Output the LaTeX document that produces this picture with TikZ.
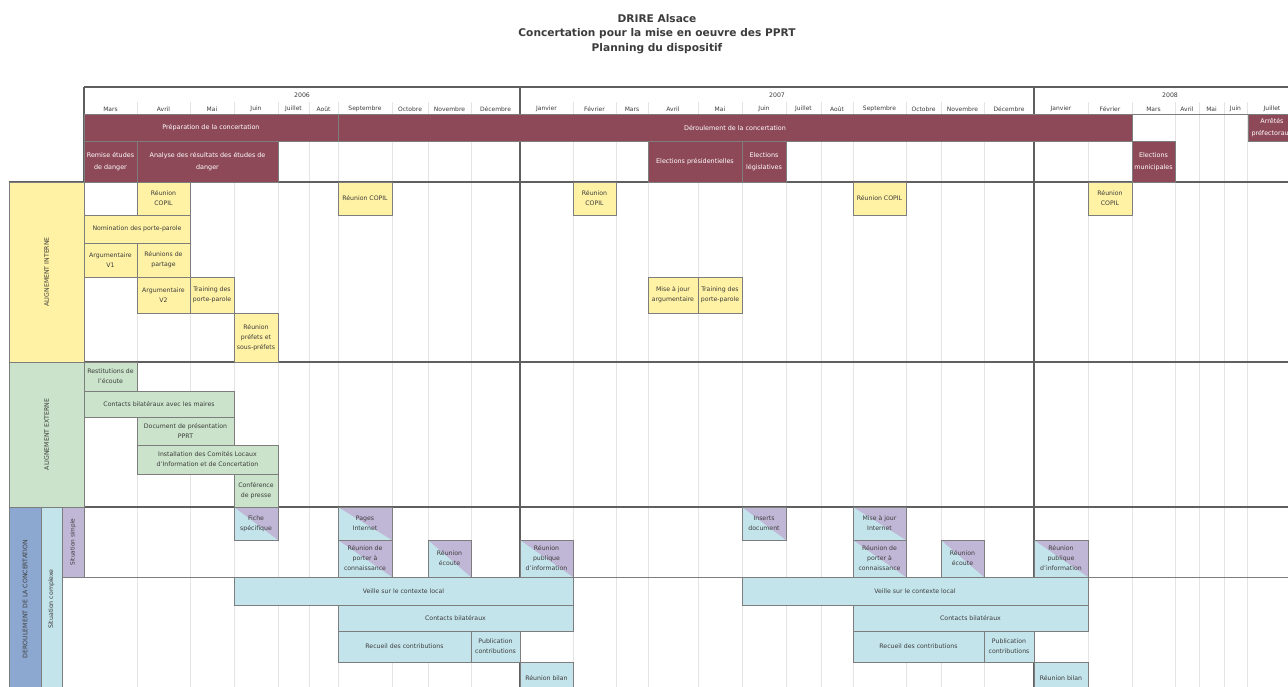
\documentclass[tikz,border=0pt]{standalone}
\usepackage{fontspec}
\setmainfont{DejaVu Sans}
\definecolor{maroon}{RGB}{142,73,89}
\definecolor{yel}{RGB}{255,242,164}
\definecolor{grn}{RGB}{202,227,202}
\definecolor{lblue}{RGB}{196,228,236}
\definecolor{lpurple}{RGB}{192,182,214}
\definecolor{dblue}{RGB}{141,168,208}
\definecolor{bordergray}{RGB}{125,125,125}
\definecolor{gridgray}{RGB}{228,228,228}
\definecolor{heavygray}{RGB}{95,95,95}
\definecolor{textgray}{RGB}{60,60,60}
% one task box spanning the columns x1..x2 and the rows y1..y2
\newcommand\task[7]{%
  \node[#2, minimum width={(#5-#3)*1pt}, minimum height={(#6-#4)*1pt}]
    (#1) at ({(#3+#5)/2},{(#4+#6)/2}) {#7};}
\begin{document}
\begin{tikzpicture}[x=1pt,y=-1pt,
  box/.style={draw=bordergray, line width=0.7pt, inner sep=0pt, outer sep=0pt,
    align=center, text=textgray, font=\fontsize{6.2}{10}\selectfont},
  yb/.style={box, fill=yel},
  gb/.style={box, fill=grn},
  bb/.style={box, fill=lblue},
  sb/.style={box, fill=lblue, path picture={
    \fill[lpurple] (path picture bounding box.north west) --
      (path picture bounding box.north east) --
      (path picture bounding box.south east) -- cycle;}},
  mb/.style={box, fill=maroon, text=white, font=\fontsize{6.4}{12.5}\selectfont},
  panel/.style={box, rotate=90, font=\fontsize{6.2}{8}\selectfont},
  gridline/.style={draw=gridgray, line width=0.6pt},
  heavyline/.style={draw=heavygray, line width=1.2pt},
  midline/.style={draw=bordergray, line width=0.8pt},
  monthlbl/.style={text=textgray, font=\fontsize{6}{7}\selectfont, inner sep=0pt},
  yearlbl/.style={text=textgray, font=\fontsize{6.2}{7}\selectfont, inner sep=0pt}
]
\useasboundingbox[fill=white] (0,0) rectangle (1288,686);
\clip (0,0) rectangle (1288,686);

% title
\node[align=center, text=textgray, font=\bfseries\fontsize{10.6}{14.5}\selectfont]
  (title) at (657,34) {DRIRE Alsace\\Concertation pour la mise en oeuvre des PPRT\\Planning du dispositif};

% month columns: light separators and month names
\foreach \a/\b/\m in {84/137/Mars,137/190/Avril,190/234/Mai,234/278/Juin,278/309/Juillet,
  309/338/Août,338/392/Septembre,392/428/Octobre,428/471/Novembre,471/520/Décembre,
  520/573/Janvier,573/616/Février,616/648/Mars,648/698/Avril,698/742/Mai,742/786/Juin,
  786/821/Juillet,821/853/Août,853/906/Septembre,906/941/Octobre,941/984/Novembre,
  984/1034/Décembre,1034/1088/Janvier,1088/1132/Février,1132/1175/Mars,1175/1199/Avril,
  1199/1224/Mai,1224/1247/Juin,1247/1297/Juillet}{
  \draw[gridline] (\b,102) -- (\b,700);
  \node[monthlbl] (m-\a) at ({(\a+\b)/2},109) {\m};
}

% years
\node[yearlbl] (y2006) at (302,95) {2006};
\node[yearlbl] (y2007) at (777,95) {2007};
\node[yearlbl] (y2008) at (1170,95) {2008};

% frame of the calendar
\draw[heavyline] (84,87) -- (1300,87);
\draw[heavyline] (84,87) -- (84,182);
\draw[midline] (84,114) -- (1300,114);
\draw[heavyline] (520,87) -- (520,700);
\draw[heavyline] (1034,87) -- (1034,700);
\draw[heavyline] (9,182) -- (1300,182);
\draw[heavyline] (84,362) -- (1300,362);
\draw[heavyline] (84,507) -- (1300,507);
\draw[midline] (62,577) -- (1300,577);

% phases and external events
\task{prep}{mb}{84}{114}{338}{141}{Préparation de la concertation}
\task{derl}{mb}{338}{114}{1132}{141}{Déroulement de la concertation}
\task{arr}{mb}{1248}{114}{1296}{141}{Arrêtés\\préfectoraux}
\task{remise}{mb}{84}{141}{137}{182}{Remise études\\de danger}
\task{analyse}{mb}{137}{141}{278}{182}{Analyse des résultats des études de\\danger}
\task{presid}{mb}{648}{141}{742}{182}{Elections présidentielles}
\task{legis}{mb}{742}{141}{786}{182}{Elections\\législatives}
\task{munic}{mb}{1132}{141}{1175}{182}{Elections\\municipales}

% side panels
\node[panel, fill=yel, minimum width=180pt, minimum height=75pt] (ai) at (46.5,272) {ALIGNEMENT INTERNE};
\node[panel, fill=grn, minimum width=145pt, minimum height=75pt] (ae) at (46.5,434.5) {ALIGNEMENT EXTERNE};
\node[panel, fill=dblue, minimum width=184pt, minimum height=32pt] (dc) at (25,599) {DEROULEMENT DE LA CONCERTATION};
\node[panel, fill=lblue, minimum width=184pt, minimum height=21pt] (sc) at (51.5,599) {Situation complexe};
\node[panel, fill=lpurple, minimum width=70pt, minimum height=22pt, font=\fontsize{5.8}{7}\selectfont] (ss) at (73,542) {Situation simple};

% internal alignment
\task{copil1}{yb}{137}{182}{190}{215}{Réunion\\COPIL}
\task{copil2}{yb}{338}{182}{392}{215}{Réunion COPIL}
\task{copil3}{yb}{573}{182}{616}{215}{Réunion\\COPIL}
\task{copil4}{yb}{853}{182}{906}{215}{Réunion COPIL}
\task{copil5}{yb}{1088}{182}{1132}{215}{Réunion\\COPIL}
\task{nomin}{yb}{84}{215}{190}{243}{Nomination des porte-parole}
\task{argv1}{yb}{84}{243}{137}{277}{Argumentaire\\V1}
\task{partage}{yb}{137}{243}{190}{277}{Réunions de\\partage}
\task{argv2}{yb}{137}{277}{190}{313}{Argumentaire\\V2}
\task{train1}{yb}{190}{277}{234}{313}{Training des\\porte-parole}
\task{prefets}{yb}{234}{313}{278}{362}{Réunion\\préfets et\\sous-préfets}
\task{majarg}{yb}{648}{277}{698}{313}{Mise à jour\\argumentaire}
\task{train2}{yb}{698}{277}{742}{313}{Training des\\porte-parole}

% external alignment
\task{restit}{gb}{84}{362}{137}{391}{Restitutions de\\l'écoute}
\task{maires}{gb}{84}{391}{234}{417}{Contacts bilatéraux avec les maires}
\task{docpprt}{gb}{137}{417}{234}{445}{Document de présentation\\PPRT}
\task{clic}{gb}{137}{445}{278}{474}{Installation des Comités Locaux\\d'Information et de Concertation}
\task{presse}{gb}{234}{474}{278}{507}{Conférence\\de presse}

% running the consultation, simple situation
\task{fiche}{sb}{234}{507}{278}{540}{Fiche\\spécifique}
\task{pages}{sb}{338}{507}{392}{540}{Pages\\Internet}
\task{porter1}{sb}{338}{540}{392}{577}{Réunion de\\porter à\\connaissance}
\task{ecoute1}{sb}{428}{540}{471}{577}{Réunion\\écoute}
\task{publ1}{sb}{520}{540}{573}{577}{Réunion\\publique\\d'information}
\task{inserts}{sb}{742}{507}{786}{540}{Inserts\\document}
\task{majint}{sb}{853}{507}{906}{540}{Mise à jour\\Internet}
\task{porter2}{sb}{853}{540}{906}{577}{Réunion de\\porter à\\connaissance}
\task{ecoute2}{sb}{941}{540}{984}{577}{Réunion\\écoute}
\task{publ2}{sb}{1034}{540}{1088}{577}{Réunion\\publique\\d'information}

% running the consultation, complex situation
\task{veille1}{bb}{234}{577}{573}{605}{Veille sur le contexte local}
\task{bilat1}{bb}{338}{605}{573}{631}{Contacts bilatéraux}
\task{recueil1}{bb}{338}{631}{471}{662}{Recueil des contributions}
\task{pubc1}{bb}{471}{631}{520}{662}{Publication\\contributions}
\task{bilan1}{bb}{520}{662}{573}{694}{Réunion bilan}
\task{veille2}{bb}{742}{577}{1088}{605}{Veille sur le contexte local}
\task{bilat2}{bb}{853}{605}{1088}{631}{Contacts bilatéraux}
\task{recueil2}{bb}{853}{631}{984}{662}{Recueil des contributions}
\task{pubc2}{bb}{984}{631}{1034}{662}{Publication\\contributions}
\task{bilan2}{bb}{1034}{662}{1088}{694}{Réunion bilan}
\end{tikzpicture}
\end{document}
